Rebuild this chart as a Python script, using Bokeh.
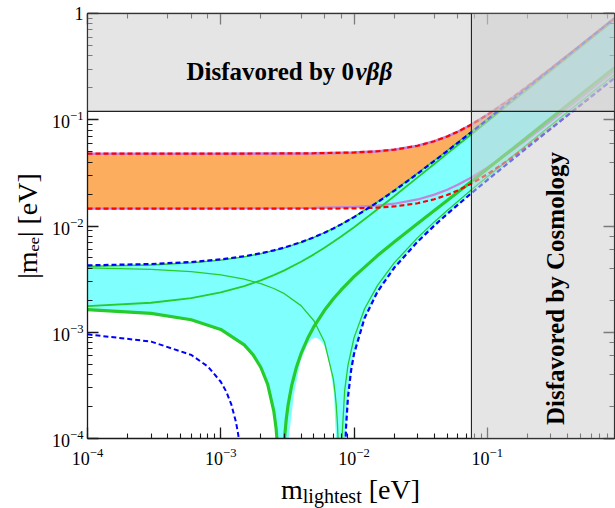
import math
from bokeh.plotting import figure
from bokeh.layouts import column
from bokeh.models import (Range1d, LogAxis, Label, BoxAnnotation, Span, CustomJSTickFormatter,
                          Div)
from bokeh.embed import file_html
from bokeh.resources import INLINE

# ---------------- data ----------------
# Normal ordering: common grid
m_nh = [1e-4, 3e-4, 6e-4, 1e-3, 1.5e-3, 2e-3, 2.5e-3, 3e-3, 4e-3, 5e-3, 6e-3, 7e-3, 8e-3,
        1e-2, 1.5e-2, 2e-2, 3e-2, 4e-2, 5e-2, 0.076, 0.1, 0.2, 0.4, 0.9]
nh_upper_3s = [0.00426, 0.004387, 0.004583, 0.004849, 0.005191, 0.005542, 0.005904, 0.006273,
               0.007037, 0.007831, 0.008651, 0.009493, 0.010355, 0.012123, 0.016719, 0.021456,
               0.031125, 0.040916, 0.050771, 0.076541, 0.100422, 0.200218, 0.40011, 0.900049]
nh_g1 = [0.0041634, 0.0042958, 0.0044971, 0.004771, 0.0051218, 0.0054819, 0.0058511, 0.0062306,
         0.0070117, 0.007822, 0.0086583, 0.0095161, 0.0103919, 0.0121904, 0.0168586, 0.0216643,
         0.0314669, 0.0413912, 0.0513759, 0.0774806, 0.1016681, 0.2027306, 0.4051464, 0.9113871]
nh_g3 = [0.0017634, 0.0018958, 0.0020971, 0.002371, 0.0027218, 0.0030819, 0.0034511, 0.0038266,
         0.0046037, 0.00541, 0.0062403, 0.0070921, 0.0079619, 0.0097424, 0.0143526, 0.0190803,
         0.0286689, 0.0383172, 0.0479819, 0.0731146, 0.0963021, 0.1928346, 0.3857964, 0.8681211]

m_g2 = [1e-4, 3e-4, 6e-4, 1e-3, 1.5e-3, 2e-3, 2.5e-3, 3e-3, 4e-3, 5e-3, 6e-3, 7e-3, 7.2e-3,
        7.35e-3, 7.5e-3, 7.65e-3, 7.8e-3, 8e-3, 8.5e-3, 9e-3, 1e-2, 1.2e-2, 1.5e-2, 2e-2, 3e-2,
        4e-2, 5e-2, 0.076, 0.1, 0.2, 0.4, 0.9]
nh_g2 = [0.0040326, 0.0039034, 0.0037123, 0.003463, 0.0031598, 0.0028659, 0.0025811, 0.0023066,
         0.0017797, 0.001282, 0.0008103, 0.0003601, 0.0002715, 0.0002068, 0.0001412, 0.0000772,
         0.0000126, 0.0000721, 0.0002816, 0.0004878, 0.0008896, 0.0016623, 0.0027614, 0.0044957,
         0.0077731, 0.0109288, 0.0140241, 0.0219274, 0.0291319, 0.0588694, 0.1180536, 0.2658129]

m_g4 = [1e-4, 3e-4, 6e-4, 1e-3, 1.5e-3, 1.75e-3, 2e-3, 2.25e-3, 2.5e-3, 2.6e-3, 2.7e-3, 2.8e-3,
        2.9e-3, 3e-3, 3.1e-3, 3.2e-3, 3.4e-3, 3.7e-3, 4e-3, 4.5e-3, 5e-3, 6e-3, 7e-3, 8e-3, 1e-2,
        1.5e-2, 2e-2, 3e-2, 4e-2, 5e-2, 0.076, 0.1, 0.2, 0.4, 0.9]
nh_g4 = [0.0016326, 0.0015034, 0.0013123, 0.001063, 0.0007598, 0.0006117, 0.0004659, 0.0003225,
         0.0001811, 0.0001251, 0.0000694, 0.0000143, 0.0000417, 0.0000974, 0.0001517, 0.0002064,
         0.0003135, 0.0004715, 0.0006283, 0.0008823, 0.00113, 0.0016077, 0.0020639, 0.0025021,
         0.0033376, 0.0052674, 0.0070797, 0.0105711, 0.0140028, 0.0174181, 0.0262934, 0.0344979,
         0.0687654, 0.1374036, 0.3090789]
g4_left_end = 2.8e-3

m_blr = [8.4e-3, 8.5e-3, 8.7e-3, 9e-3, 9.5e-3, 1e-2, 1.2e-2, 1.5e-2, 2e-2, 3e-2, 4e-2, 5e-2,
         0.076, 0.1, 0.2, 0.4, 0.9]
nh_lower_3s = [0.0000065, 0.000046, 0.0001253, 0.0002434, 0.0004369, 0.000627, 0.0013628,
               0.002406, 0.004044, 0.007125, 0.010084, 0.012979, 0.020359, 0.027078, 0.054782,
               0.10989, 0.247451]

m_bll = [1e-4, 3e-4, 6e-4, 8e-4, 1e-3, 1.1e-3, 1.2e-3, 1.3e-3, 1.35e-3, 1.4e-3, 1.45e-3, 1.48e-3]
nh_lower_left = [0.000956, 0.000817, 0.000612, 0.000476, 0.000342, 0.000276, 0.000209, 0.000143,
                 0.00011, 0.000078, 0.000045, 0.000025]

hole_m = [3.2e-3, 3.245e-3, 3.54e-3, 3.97e-3, 4.46e-3, 4.8e-3, 5.15e-3, 5.5e-3, 5.94e-3, 6.3e-3,
          6.67e-3, 7.07e-3, 7.31e-3, 7.35e-3]
hole_y = [8e-5, 1.02e-4, 2.62e-4, 5.38e-4, 7.73e-4, 8.6e-4, 8.91e-4, 8.6e-4, 7.6e-4, 6.1e-4,
          4.4e-4, 2.6e-4, 1.02e-4, 8e-5]

# Inverted ordering
m_ih = [1e-4, 1e-3, 3e-3, 5e-3, 0.01, 0.015, 0.02, 0.03, 0.04, 0.05, 0.06, 0.076, 0.1, 0.15,
        0.2, 0.3, 0.5, 0.9]
ih_upper_3s = [0.048012, 0.04804, 0.04816, 0.048359, 0.0492, 0.05051, 0.052257, 0.056897,
               0.062781, 0.0696, 0.077111, 0.090133, 0.111128, 0.157641, 0.205795, 0.303895,
               0.502346, 0.901305]
ih_upper_bf = [0.047863, 0.047895, 0.048019, 0.048221, 0.04907, 0.050387, 0.052138, 0.056785,
               0.062671, 0.06949, 0.076998, 0.090013, 0.110994, 0.157468, 0.205577, 0.303583,
               0.501839, 0.900401]
ih_lower_3s = [0.014597, 0.014577, 0.014551, 0.01455, 0.01465, 0.014893, 0.015269, 0.016369,
               0.017847, 0.01961, 0.021583, 0.025045, 0.030684, 0.043274, 0.056362, 0.083084,
               0.137213, 0.246097]
ih_lower_bf = [0.014601, 0.014624, 0.014692, 0.014785, 0.01512, 0.015598, 0.016209, 0.017779,
               0.019727, 0.02196, 0.024403, 0.028617, 0.035384, 0.050324, 0.065762, 0.097184,
               0.160713, 0.288397]

bound_0vbb = 0.12
bound_cosmo = 0.076

X_MIN, X_MAX, Y_MIN, Y_MAX = 1e-4, 0.9, 1e-4, 1.0

# ---------------- figure ----------------
FONT = "Liberation Serif"
p = figure(width=615, height=474, x_axis_type="log", y_axis_type="log",
           x_range=Range1d(X_MIN, X_MAX), y_range=Range1d(Y_MIN, Y_MAX),
           output_backend="svg", toolbar_location=None, margin=(0, 0, 0, 0),
           min_border_left=87, min_border_top=13, min_border_right=1, min_border_bottom=36)
p.xgrid.visible = False
p.ygrid.visible = False
p.outline_line_color = None
p.background_fill_color = "white"

top_axis = LogAxis()
right_axis = LogAxis()
p.add_layout(right_axis, "right")
p.add_layout(top_axis, "above")
blank = CustomJSTickFormatter(code="return '';")
for ax in p.xaxis + p.yaxis:
    ax.major_tick_in = 11
    ax.major_tick_out = 0
    ax.minor_tick_in = 5
    ax.minor_tick_out = 0
    ax.axis_line_color = "#1a1a1a"
    ax.axis_line_width = 1.3
    ax.major_tick_line_color = "#1a1a1a"
    ax.major_tick_line_width = 1.3
    ax.minor_tick_line_color = "#1a1a1a"
    ax.minor_tick_line_width = 1.1
    ax.major_label_text_font = FONT
    ax.major_label_text_font_size = "18px"
    ax.major_label_text_color = "black"

for ax in [top_axis, right_axis]:   # top and right frame axes: ticks only
    ax.formatter = blank
    ax.major_label_standoff = 0

xa = p.below[0]
ya = p.left[0]
xa.major_label_standoff = 9
ya.major_label_standoff = 4
ya.major_label_overrides = {1: "1"}
ya.axis_label = "|m\u2091\u2091| [eV]"
ya.axis_label_text_font = FONT
ya.axis_label_text_font_size = "28px"
ya.axis_label_text_font_style = "normal"
ya.axis_label_text_color = "black"
ya.axis_label_standoff = 6

# IH band (orange)
p.patch(m_ih + m_ih[::-1], ih_upper_3s + ih_lower_3s[::-1],
        fill_color="#fcad5e", line_color=None)

# NH band (cyan)
left_m = [m for m in m_g4 if m <= g4_left_end]
left_v = [v for m, v in zip(m_g4, nh_g4) if m <= g4_left_end]
p.patch(m_nh + m_blr[::-1] + left_m[::-1],
        nh_upper_3s + nh_lower_3s[::-1] + left_v[::-1],
        fill_color="#80ffff", line_color=None)
p.patch(hole_m, hole_y, fill_color="white", line_color=None)

# best-fit IH lines (purple)
p.line(m_ih, ih_upper_bf, line_color="#c384dc", line_width=2.6)
p.line(m_ih, ih_lower_bf, line_color="#c384dc", line_width=2.2)

# best-fit NH lines (green)
GREEN = "#25cc2c"
p.line(m_nh, nh_g1, line_color=GREEN, line_width=1.3)
p.line(m_g2, nh_g2, line_color=GREEN, line_width=1.3)
p.line(m_nh, nh_g3, line_color=GREEN, line_width=1.8)
p.line(m_g4, nh_g4, line_color=GREEN, line_width=3.2)

# 3 sigma boundaries
p.line(m_ih, ih_upper_3s, line_color="#ff0000", line_width=2.2, line_dash="5 3")
p.line(m_ih, ih_lower_3s, line_color="#ff0000", line_width=2.2, line_dash="5 3")
p.line(m_nh, nh_upper_3s, line_color="#0000ff", line_width=2.2, line_dash="5 3")
p.line(m_blr, nh_lower_3s, line_color="#0000ff", line_width=2.2, line_dash="5 3")
p.line(m_bll, nh_lower_left, line_color="#0000ff", line_width=2.0, line_dash="5 3")

# disfavoured regions
p.add_layout(BoxAnnotation(bottom=bound_0vbb, fill_color="#cfcfcf", fill_alpha=0.54,
                           line_color=None))
p.add_layout(BoxAnnotation(left=bound_cosmo, fill_color="#cfcfcf", fill_alpha=0.54,
                           line_color=None))
p.add_layout(Span(location=bound_0vbb, dimension="width", line_color="#222222", line_width=1.1))
p.add_layout(Span(location=bound_cosmo, dimension="height", line_color="#222222", line_width=1.1))


def lab(text, x, y, dx, dy, size, align="left", baseline="alphabetic", angle=0.0, style="normal"):
    p.add_layout(Label(x=x, y=y, x_offset=dx, y_offset=dy, text=text, text_font=FONT,
                       text_font_size=size, text_align=align, text_baseline=baseline,
                       angle=angle, text_font_style=style, text_color="black"))


# region texts
lab("Disfavored by 0", X_MIN, Y_MAX, 99, -58.3, "25px", style="bold")
lab("\u03bd\u03b2\u03b2", X_MIN, Y_MAX, 268, -58.3, "25px", style="bold italic")
lab("Disfavored by Cosmology", X_MIN, Y_MIN, 468, 150, "25px", align="center",
    angle=math.pi / 2, style="bold")

# x-axis title with a real subscript
div_x = Div(
    text=('<div style="width:527px;margin-left:87px;padding-top:2px;text-align:center;'
          'font-family:\'Liberation Serif\',serif;font-size:28px;line-height:28px;'
          'white-space:nowrap;color:black">m<span style="font-size:20px;position:relative;'
          'top:4px">lightest</span> [eV]</div>'),
    width=615, height=34, margin=(0, 0, 0, 0))

layout = column(p, div_x, spacing=0)
open("out.html", "w").write(file_html(layout, INLINE))
